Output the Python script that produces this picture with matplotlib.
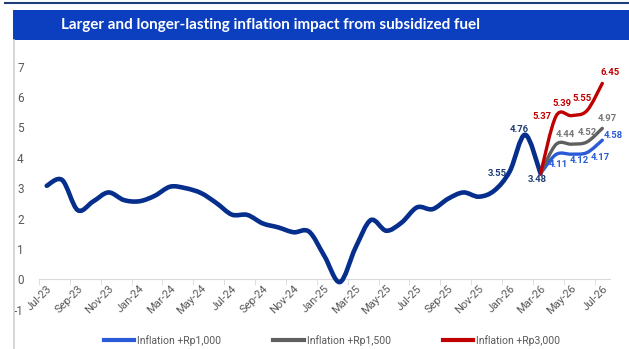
import numpy as np
import matplotlib
matplotlib.use('Agg')
import matplotlib.pyplot as plt
from matplotlib.path import Path
from matplotlib.patches import PathPatch, Rectangle
from matplotlib.lines import Line2D

plt.rcParams['axes.unicode_minus'] = False
plt.rcParams['font.family'] = ['Roboto', 'DejaVu Sans']

# monthly inflation, Jul-23 .. Mar-26 (actual)
base = [3.08, 3.27, 2.28, 2.56, 2.86, 2.61,
        2.57, 2.75, 3.05, 3.00, 2.84, 2.51, 2.13, 2.12, 1.84, 1.71, 1.55, 1.57,
        0.76, -0.09, 1.03, 1.95, 1.60, 1.87, 2.37, 2.31, 2.65, 2.86, 2.72, 2.92,
        3.55, 4.76, 3.48]
# scenarios Mar-26 .. Jul-26
rp1000 = [3.48, 4.11, 4.12, 4.17, 4.58]
rp1500 = [3.48, 4.44, 4.45, 4.52, 4.97]
rp3000 = [3.48, 5.37, 5.39, 5.55, 6.45]
xlabels = ['Jul-23', 'Sep-23', 'Nov-23', 'Jan-24', 'Mar-24', 'May-24', 'Jul-24',
           'Sep-24', 'Nov-24', 'Jan-25', 'Mar-25', 'May-25', 'Jul-25', 'Sep-25',
           'Nov-25', 'Jan-26', 'Mar-26', 'May-26', 'Jul-26']

navy = '#062e8c'
blue = '#2a5bd7'
grey = '#5f5f5f'
red = '#c00000'


def smooth_path(x, y):
    # excel style smoothed line as cubic bezier segments
    x = np.asarray(x, float)
    y = np.asarray(y, float)
    pts = np.column_stack([x, y])
    verts = [pts[0]]
    codes = [Path.MOVETO]
    n = len(pts)
    for i in range(n - 1):
        p0 = pts[i - 1] if i > 0 else pts[i]
        p1 = pts[i]
        p2 = pts[i + 1]
        p3 = pts[i + 2] if i + 2 < n else pts[i + 1]
        c1 = p1 + (p2 - p0) / 6.0
        c2 = p2 - (p3 - p1) / 6.0
        verts += [c1, c2, p2]
        codes += [Path.CURVE4] * 3
    return Path(verts, codes)


def draw(ax, x, y, color, lw, label=None, z=2):
    ax.add_patch(PathPatch(smooth_path(x, y), facecolor='none', edgecolor=color,
                           lw=lw, capstyle='round', joinstyle='round', zorder=z))
    if label:
        ax.plot([], [], color=color, lw=3, label=label)


fig = plt.figure(figsize=(6.29, 3.49), dpi=100)
fig.patch.set_facecolor('white')

# frame decorations
fig.add_artist(Line2D([5 / 629, 1], [1 - 2.5 / 349, 1 - 2.5 / 349], color='#1f3f7a', lw=1.5))
fig.add_artist(Rectangle((13 / 629, 1 - 39.5 / 349), 1, 30 / 349, facecolor='#0b3fbf',
                         edgecolor='none', transform=fig.transFigure))
fig.add_artist(Line2D([13.5 / 629, 13.5 / 629], [0, 1 - 39.5 / 349], color='#d0d0d0', lw=1.2))
fig.text(0.43, 1 - 24.5 / 349, 'Larger and longer-lasting inflation impact from subsidized fuel',
         color='white', fontsize=11, fontweight='bold', family=['Lato', 'DejaVu Sans'],
         ha='center', va='center')

ax = fig.add_axes([39 / 629, 39.3 / 349, 571 / 629, 243 / 349])
ax.set_xlim(-0.5, 36.5)
ax.set_ylim(-1, 7)

xb = np.arange(len(base))
xs = np.arange(len(base) - 1, len(base) - 1 + len(rp1000))
draw(ax, xb, base, navy, 3.3, z=3)
draw(ax, xs, rp1000, blue, 2.4, 'Inflation +Rp1,000', z=4)
draw(ax, xs, rp1500, grey, 2.4, 'Inflation +Rp1,500', z=5)
draw(ax, xs, rp3000, red, 2.4, 'Inflation +Rp3,000', z=6)

lblfont = dict(fontsize=6.8, fontweight='bold', family=['Roboto', 'DejaVu Sans'],
               ha='center', va='center')


def lab(x, y, dx, dy, color):
    ax.annotate(f'{y:.2f}', (x, y), xytext=(dx * 0.72, dy * 0.72), textcoords='offset points',
                color=color, zorder=8, **lblfont)


lab(xb[-3], base[-3], -12, -2, '#1f3b73')
lab(xb[-2], base[-2], -6, 5, '#1f3b73')
lab(xb[-1], base[-1], -3, -6, '#1f3b73')
for i, (dx, dy) in zip([1, 2, 3, 4], [(-14, 0), (-9, 12), (-5, 12), (8, 11)]):
    lab(xs[i], rp3000[i], dx, dy, red)
for i, (dx, dy) in zip([1, 3, 4], [(9, 10), (0, 10), (5, 10)]):
    lab(xs[i], rp1500[i], dx, dy, '#767676')
for i, (dx, dy) in zip([1, 2, 3, 4], [(2, -10), (8, -6), (13, -5), (11, 5)]):
    lab(xs[i], rp1000[i], dx, dy, blue)

for s in ['top', 'right', 'left']:
    ax.spines[s].set_visible(False)
ax.spines['bottom'].set_position(('data', 0))
ax.spines['bottom'].set_color('#d9d9d9')
ax.set_yticks(range(-1, 8))
ax.tick_params(axis='y', length=0, pad=11, labelsize=8.5, labelcolor='#595959')
ax.set_xticks(np.arange(0, 37, 2))
ax.set_xticklabels(xlabels, rotation=45, ha='right', va='top', rotation_mode='anchor',
                   fontsize=8, color='#595959')
ax.tick_params(axis='x', which='major', length=0, pad=3)
ax.set_xticks(np.arange(-0.5, 36, 2), minor=True)
ax.tick_params(axis='x', which='minor', length=4, color='#d9d9d9')

ax.legend(loc='center', bbox_to_anchor=(332 / 629, 1 - 340.5 / 349), bbox_transform=fig.transFigure,
          ncol=3, frameon=False, fontsize=7.5, handlelength=2.9, handletextpad=0.3,
          columnspacing=5.0, labelcolor='#595959')

fig.savefig('out.png', dpi=100)
